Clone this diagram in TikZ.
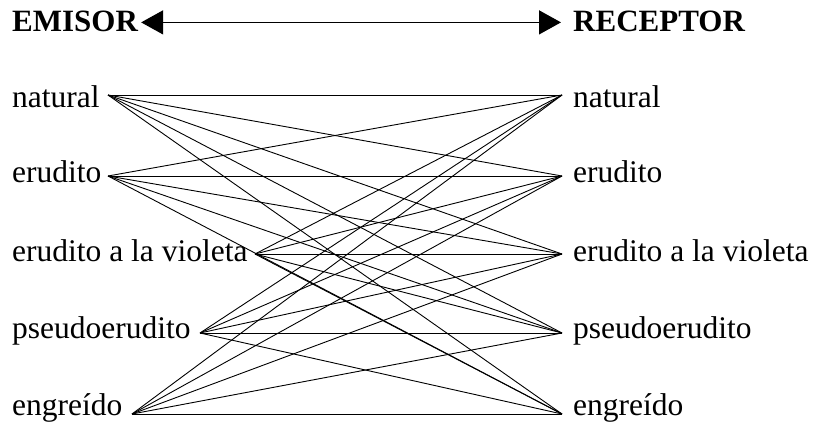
\documentclass[tikz,border=0pt]{standalone}
\usepackage{fontspec}
\setmainfont{Liberation Serif}
\usetikzlibrary{arrows.meta}

\begin{document}
\begin{tikzpicture}[x=1pt,y=-1pt,
  lbl/.style={anchor=base west,inner sep=0pt,font=\fontsize{31.5}{38}\selectfont},
  hdr/.style={lbl,font=\fontsize{31}{38}\selectfont\bfseries},
  link/.style={line width=0.9pt},
  tip/.style={Triangle[length=22pt,width=24pt]}]
\useasboundingbox (0,0) rectangle (814,426);
% header
\node[hdr] (emisor) at (12,31) {EMISOR};
\node[hdr] (receptor) at (573,31) {RECEPTOR};
\draw[line width=1.4pt,{Triangle[length=22pt,width=24pt]}-{Triangle[length=22pt,width=24pt]}]
  ([xshift=3pt,yshift=-1.5pt]emisor.east) -- ([xshift=-12pt,yshift=-1.5pt]receptor.west);
% emisor side
\node[lbl] (l1) at (12,107) {natural};
\node[lbl] (l2) at (12,182) {erudito};
\node[lbl] (l3) at (12,261) {erudito a la violeta};
\node[lbl] (l4) at (12,338) {pseudoerudito};
\node[lbl] (l5) at (12,415) {engreído};
% receptor side
\node[lbl] (r1) at (573,107) {natural};
\node[lbl] (r2) at (573,182) {erudito};
\node[lbl] (r3) at (573,261) {erudito a la violeta};
\node[lbl] (r4) at (573,338) {pseudoerudito};
\node[lbl] (r5) at (573,415) {engreído};
% line ends
\coordinate (a1) at (108,95);
\coordinate (a2) at (108,176);
\coordinate (a3) at (255,254);
\coordinate (a4) at (200,333);
\coordinate (a5) at (132,414);
\coordinate (b1) at (562,95);
\coordinate (b2) at (562,176);
\coordinate (b3) at (562,254);
\coordinate (b4) at (562,333);
\coordinate (b5) at (562,414);
\foreach \i in {1,...,5}
  \foreach \j in {1,...,5}
    \draw[link] (a\i) -- (b\j);
\end{tikzpicture}
\end{document}
